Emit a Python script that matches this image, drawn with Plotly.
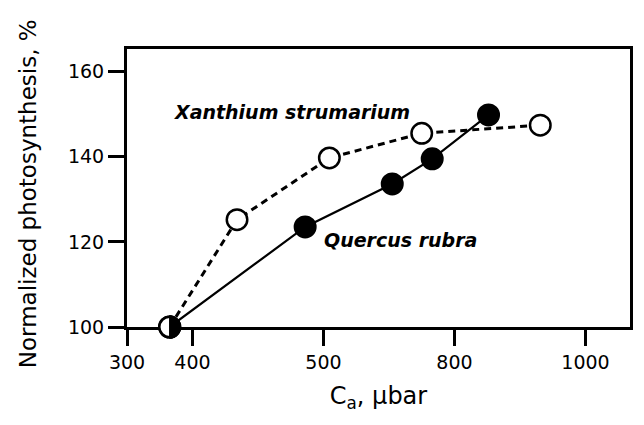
import plotly.graph_objects as go

# Data (x positions on the drawn linear scale)
xanthium_ca = [365, 468, 609, 750, 931]
xanthium_ps = [100, 125.2, 139.7, 145.5, 147.4]
quercus_ca = [365, 572, 705, 766, 852]
quercus_ps = [100, 123.5, 133.6, 139.5, 149.8]

x_tickvals = [300, 400, 600, 800, 1000]
x_ticktext = ["300", "400", "500", "800", "1000"]
y_tickvals = [100, 120, 140, 160]

X_RANGE = [300, 1068]
Y_RANGE = [100, 165.3]

FONT = "DejaVu Sans, Arial, sans-serif"

fig = go.Figure()
# lines
fig.add_trace(go.Scatter(x=xanthium_ca, y=xanthium_ps, mode="lines",
                         line=dict(color="black", width=3, dash="7px,5px"),
                         cliponaxis=False, showlegend=False, hoverinfo="skip"))
fig.add_trace(go.Scatter(x=quercus_ca, y=quercus_ps, mode="lines",
                         line=dict(color="black", width=2.2),
                         cliponaxis=False, showlegend=False, hoverinfo="skip"))
# markers
fig.add_trace(go.Scatter(x=quercus_ca, y=quercus_ps, mode="markers",
                         marker=dict(symbol="circle", size=21.5, color="black",
                                     line=dict(color="black", width=1.5)),
                         cliponaxis=False, showlegend=False, name="Quercus rubra"))
fig.add_trace(go.Scatter(x=xanthium_ca, y=xanthium_ps, mode="markers",
                         marker=dict(symbol="circle", size=20.5, color="white",
                                     line=dict(color="black", width=2.5)),
                         cliponaxis=False, showlegend=False, name="Xanthium strumarium"))

# shared first point: right half filled black (pixel-sized semicircle anchored on the data point)
R = 11.4
k = 0.5523 * R
half = (f"M 0,{-R} C {k},{-R} {R},{-k} {R},0 C {R},{k} {k},{R} 0,{R} Z")
y_anchor_paper = (quercus_ps[0] - Y_RANGE[0]) / (Y_RANGE[1] - Y_RANGE[0])
fig.add_shape(type="path", xref="x", yref="paper", xsizemode="pixel", ysizemode="pixel",
              xanchor=quercus_ca[0], yanchor=y_anchor_paper, path=half,
              fillcolor="black", line=dict(color="black", width=1), layer="above")

fig.add_annotation(x=369, y=150.6, text="<b><i>Xanthium strumarium</i></b>",
                   showarrow=False, xanchor="left", yanchor="middle",
                   font=dict(family=FONT, size=19, color="black"))
fig.add_annotation(x=598, y=120.5, text="<b><i>Quercus rubra</i></b>",
                   showarrow=False, xanchor="left", yanchor="middle",
                   font=dict(family=FONT, size=19, color="black"))

# y-axis title
fig.add_annotation(xref="paper", yref="paper", x=-0.1976, y=0.48,
                   text="Normalized photosynthesis, %", textangle=-90,
                   showarrow=False, xanchor="center", yanchor="middle",
                   font=dict(family=FONT, size=23, color="black"))

axis_common = dict(showline=True, linecolor="black", linewidth=3, mirror=True,
                   ticks="outside", ticklen=16, tickwidth=3, tickcolor="black",
                   showgrid=False, zeroline=False, layer="below traces",
                   tickfont=dict(family=FONT, size=19, color="black"))

fig.update_xaxes(range=X_RANGE, tickvals=x_tickvals, ticktext=x_ticktext,
                 title=dict(text="C<sub>a</sub>, µbar", font=dict(family=FONT, size=24, color="black"),
                            standoff=16),
                 **axis_common)
fig.update_yaxes(range=Y_RANGE, tickvals=y_tickvals, **axis_common)

fig.update_layout(width=644, height=425, margin=dict(l=127, r=11, t=49, b=98),
                  paper_bgcolor="white", plot_bgcolor="white", showlegend=False)

fig.write_html("out.html")
